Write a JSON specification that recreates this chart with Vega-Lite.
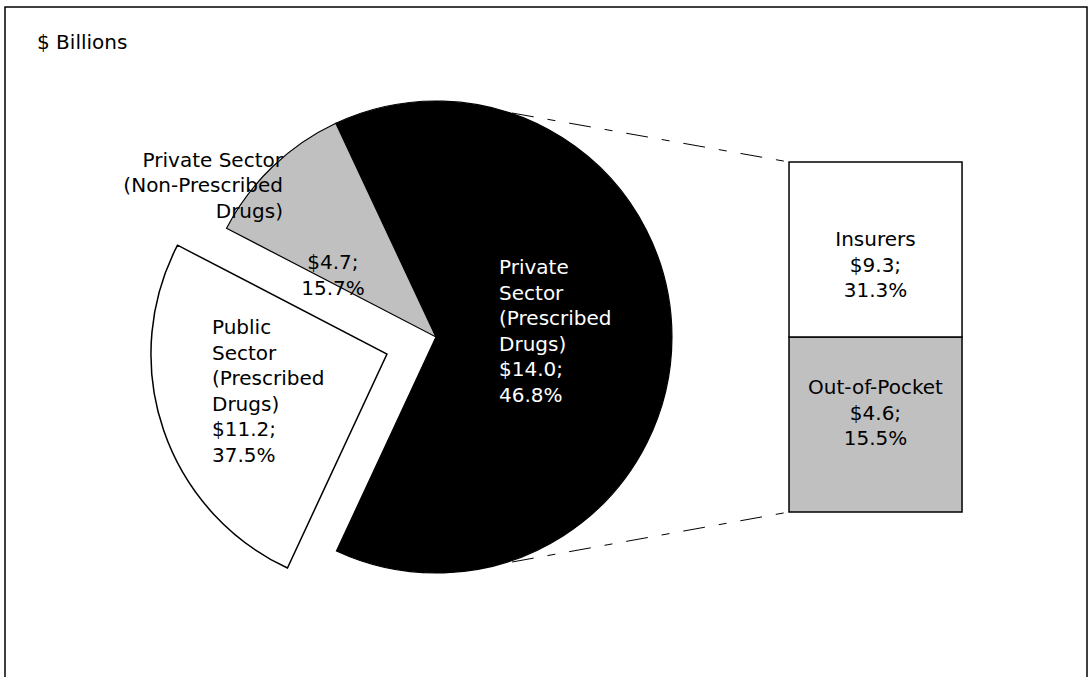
{
  "$schema": "https://vega.github.io/schema/vega-lite/v6.json",
  "width": 1082,
  "height": 680,
  "autosize": {"type": "none"},
  "padding": {"left": 5, "top": 7, "right": 5, "bottom": -10},
  "background": "white",
  "config": {
    "view": {"stroke": "#000", "strokeWidth": 1.5},
    "text": {"font": "DejaVu Sans", "fontSize": 20, "lineHeight": 25.5, "lineBreak": "\n"}
  },
  "datasets": {
    "pie": [
      {"segment": "Private Sector (Prescribed Drugs)", "wrapped": "Private\nSector\n(Prescribed\nDrugs)", "amount": 14.0, "pct": 46.8, "drawn": 63.9, "order": 1},
      {"segment": "Public Sector (Prescribed Drugs)", "wrapped": "Public\nSector\n(Prescribed\nDrugs)", "amount": 11.2, "pct": 37.5, "drawn": 25.7, "order": 2},
      {"segment": "Private Sector (Non-Prescribed Drugs)", "wrapped": "Private Sector\n(Non-Prescribed\nDrugs)", "amount": 4.7, "pct": 15.7, "drawn": 10.4, "order": 3}
    ],
    "bar": [
      {"segment": "Out-of-Pocket", "amount": 4.6, "pct": 15.5, "drawn": 50, "order": 1},
      {"segment": "Insurers", "amount": 9.3, "pct": 31.3, "drawn": 50, "order": 2}
    ],
    "note": [{"unit": "$ Billions"}]
  },
  "layer": [
    {
      "data": {"name": "pie"},
      "transform": [
        {"stack": "drawn", "groupby": [], "sort": [{"field": "order"}], "as": ["t0", "t1"]},
        {"filter": "datum.segment !== 'Public Sector (Prescribed Drugs)'"}
      ],
      "mark": {"type": "arc", "outerRadius": 236, "stroke": "#000", "strokeWidth": 1.2},
      "encoding": {
        "theta": {"field": "t0", "type": "quantitative", "scale": {"domain": [0, 100], "range": [-0.438, 5.845]}},
        "theta2": {"field": "t1"},
        "x": {"datum": 39.83, "type": "quantitative", "scale": {"domain": [0, 100], "nice": false, "zero": false}, "axis": null},
        "y": {"datum": 50, "type": "quantitative", "scale": {"domain": [-50, 144.29], "nice": false, "zero": false}, "axis": null},
        "fill": {"field": "segment", "type": "nominal", "legend": null,
          "scale": {"domain": ["Private Sector (Prescribed Drugs)", "Public Sector (Prescribed Drugs)", "Private Sector (Non-Prescribed Drugs)", "Insurers", "Out-of-Pocket"],
                    "range": ["#000000", "#ffffff", "#c0c0c0", "#ffffff", "#c0c0c0"]}}
      }
    },
    {
      "data": {"name": "pie"},
      "transform": [
        {"stack": "drawn", "groupby": [], "sort": [{"field": "order"}], "as": ["t0", "t1"]},
        {"filter": "datum.segment === 'Public Sector (Prescribed Drugs)'"}
      ],
      "mark": {"type": "arc", "outerRadius": 236, "stroke": "#000", "strokeWidth": 1.5, "xOffset": -49, "yOffset": 17},
      "encoding": {
        "theta": {"field": "t0", "type": "quantitative", "scale": {"domain": [0, 100], "range": [-0.438, 5.845]}},
        "theta2": {"field": "t1"},
        "x": {"datum": 39.83, "type": "quantitative", "scale": {"domain": [0, 100], "nice": false, "zero": false}, "axis": null},
        "y": {"datum": 50, "type": "quantitative", "scale": {"domain": [-50, 144.29], "nice": false, "zero": false}, "axis": null},
        "fill": {"field": "segment", "type": "nominal", "legend": null}
      }
    },
    {
      "data": {"name": "bar"},
      "transform": [
        {"stack": "drawn", "groupby": [], "sort": [{"field": "order"}], "as": ["s0", "s1"]}
      ],
      "mark": {"type": "rect", "stroke": "#000", "strokeWidth": 1.5},
      "encoding": {
        "x": {"datum": 72.46, "type": "quantitative", "scale": {"domain": [0, 100], "nice": false, "zero": false}, "axis": null},
        "x2": {"datum": 88.45},
        "y": {"field": "s0", "type": "quantitative", "scale": {"domain": [-50, 144.29], "nice": false, "zero": false}, "axis": null},
        "y2": {"field": "s1"},
        "fill": {"field": "segment", "type": "nominal", "legend": null}
      }
    },
    {
      "data": {"name": "note"},
      "mark": {"type": "rule", "stroke": "#000", "strokeWidth": 1, "strokeDash": [22, 14, 8, 14]},
      "encoding": {
        "x": {"datum": 46.86, "type": "quantitative", "scale": {"domain": [0, 100], "nice": false, "zero": false}, "axis": null},
        "y": {"datum": 114.0, "type": "quantitative", "scale": {"domain": [-50, 144.29], "nice": false, "zero": false}, "axis": null},
        "x2": {"datum": 72.46},
        "y2": {"datum": 100}
      }
    },
    {
      "data": {"name": "note"},
      "mark": {"type": "rule", "stroke": "#000", "strokeWidth": 1, "strokeDash": [22, 14, 8, 14]},
      "encoding": {
        "x": {"datum": 46.86, "type": "quantitative", "scale": {"domain": [0, 100], "nice": false, "zero": false}, "axis": null},
        "y": {"datum": -14.29, "type": "quantitative", "scale": {"domain": [-50, 144.29], "nice": false, "zero": false}, "axis": null},
        "x2": {"datum": 72.46},
        "y2": {"datum": 0}
      }
    },
    {
      "data": {"name": "note"},
      "mark": {"type": "text", "align": "left", "baseline": "middle", "color": "#000"},
      "encoding": {
        "x": {"datum": 2.96, "type": "quantitative", "scale": {"domain": [0, 100], "nice": false, "zero": false}, "axis": null},
        "y": {"datum": 134.0, "type": "quantitative", "scale": {"domain": [-50, 144.29], "nice": false, "zero": false}, "axis": null},
        "text": {"field": "unit"}
      }
    },
    {
      "data": {"name": "pie"},
      "transform": [{"filter": "datum.order === 3"}],
      "mark": {"type": "text", "align": "right", "baseline": "middle", "color": "#000"},
      "encoding": {
        "x": {"datum": 25.69, "type": "quantitative", "scale": {"domain": [0, 100], "nice": false, "zero": false}, "axis": null},
        "y": {"datum": 100.29, "type": "quantitative", "scale": {"domain": [-50, 144.29], "nice": false, "zero": false}, "axis": null},
        "text": {"field": "wrapped"}
      }
    },
    {
      "data": {"name": "pie"},
      "transform": [
        {"filter": "datum.order === 3"},
        {"calculate": "'$' + format(datum.amount, '.1f') + ';\\n' + format(datum.pct, '.1f') + '%'", "as": "valtext"}
      ],
      "mark": {"type": "text", "align": "center", "baseline": "middle", "color": "#000"},
      "encoding": {
        "x": {"datum": 30.31, "type": "quantitative", "scale": {"domain": [0, 100], "nice": false, "zero": false}, "axis": null},
        "y": {"datum": 71.14, "type": "quantitative", "scale": {"domain": [-50, 144.29], "nice": false, "zero": false}, "axis": null},
        "text": {"field": "valtext"}
      }
    },
    {
      "data": {"name": "pie"},
      "transform": [
        {"filter": "datum.order === 2"},
        {"calculate": "datum.wrapped + '\\n$' + format(datum.amount, '.1f') + ';\\n' + format(datum.pct, '.1f') + '%'", "as": "full"}
      ],
      "mark": {"type": "text", "align": "left", "baseline": "middle", "color": "#000"},
      "encoding": {
        "x": {"datum": 19.13, "type": "quantitative", "scale": {"domain": [0, 100], "nice": false, "zero": false}, "axis": null},
        "y": {"datum": 52.57, "type": "quantitative", "scale": {"domain": [-50, 144.29], "nice": false, "zero": false}, "axis": null},
        "text": {"field": "full"}
      }
    },
    {
      "data": {"name": "pie"},
      "transform": [
        {"filter": "datum.order === 1"},
        {"calculate": "datum.wrapped + '\\n$' + format(datum.amount, '.1f') + ';\\n' + format(datum.pct, '.1f') + '%'", "as": "full"}
      ],
      "mark": {"type": "text", "align": "left", "baseline": "middle", "color": "#fff"},
      "encoding": {
        "x": {"datum": 45.66, "type": "quantitative", "scale": {"domain": [0, 100], "nice": false, "zero": false}, "axis": null},
        "y": {"datum": 69.71, "type": "quantitative", "scale": {"domain": [-50, 144.29], "nice": false, "zero": false}, "axis": null},
        "text": {"field": "full"}
      }
    },
    {
      "data": {"name": "bar"},
      "transform": [
        {"filter": "datum.order === 2"},
        {"calculate": "datum.segment + '\\n$' + format(datum.amount, '.1f') + ';\\n' + format(datum.pct, '.1f') + '%'", "as": "full"}
      ],
      "mark": {"type": "text", "align": "center", "baseline": "middle", "color": "#000"},
      "encoding": {
        "x": {"datum": 80.45, "type": "quantitative", "scale": {"domain": [0, 100], "nice": false, "zero": false}, "axis": null},
        "y": {"datum": 77.71, "type": "quantitative", "scale": {"domain": [-50, 144.29], "nice": false, "zero": false}, "axis": null},
        "text": {"field": "full"}
      }
    },
    {
      "data": {"name": "bar"},
      "transform": [
        {"filter": "datum.order === 1"},
        {"calculate": "datum.segment + '\\n$' + format(datum.amount, '.1f') + ';\\n' + format(datum.pct, '.1f') + '%'", "as": "full"}
      ],
      "mark": {"type": "text", "align": "center", "baseline": "middle", "color": "#000"},
      "encoding": {
        "x": {"datum": 80.45, "type": "quantitative", "scale": {"domain": [0, 100], "nice": false, "zero": false}, "axis": null},
        "y": {"datum": 35.43, "type": "quantitative", "scale": {"domain": [-50, 144.29], "nice": false, "zero": false}, "axis": null},
        "text": {"field": "full"}
      }
    }
  ]
}
